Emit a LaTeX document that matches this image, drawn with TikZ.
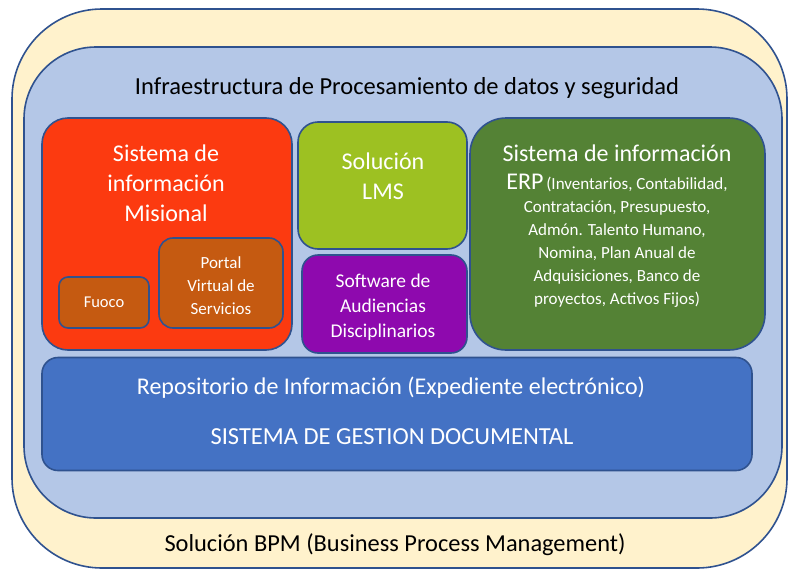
\documentclass[tikz,border=0pt]{standalone}
\usepackage{fontspec}
\setmainfont{Carlito}
\definecolor{cream}{HTML}{FFF2CC}
\definecolor{lightblue}{HTML}{B4C7E7}
\definecolor{edge}{HTML}{2F528F}
\definecolor{redbox}{HTML}{FC3A10}
\definecolor{brownbox}{HTML}{C55A11}
\definecolor{limebox}{HTML}{9DC122}
\definecolor{purplebox}{HTML}{8E09AE}
\definecolor{greenbox}{HTML}{548235}
\definecolor{bluebox}{HTML}{4472C4}
\tikzset{
  box/.style={draw=edge, line width=1.6pt, inner sep=0pt, rectangle},
  wtext/.style={text=white, align=center, inner sep=0pt},
  btext/.style={text=black, align=center, inner sep=0pt},
}
\newcommand{\fs}[2]{\fontsize{#1}{#2}\selectfont}
\begin{document}
\begin{tikzpicture}[x=1pt,y=-1pt]
\useasboundingbox (0,0) rectangle (789,570);
% outer BPM
\node[box, fill=cream, rounded corners=90pt, minimum width=775pt, minimum height=559pt] (bpm) at (399.5,288.5) {};
% inner infrastructure
\node[box, fill=lightblue, rounded corners=72pt, minimum width=758pt, minimum height=471pt] (infra) at (403,282.5) {};
\node[btext, font=\fs{24.5}{28}] (infratitle) at (407,88) {Infraestructura de Procesamiento de datos y seguridad};
% red misional
\node[box, fill=redbox, rounded corners=26pt, minimum width=250pt, minimum height=232pt] (mis) at (167,234) {};
\node[wtext, font=\fs{24}{30}] (mistext) at (166,183) {Sistema de\\información\\Misional};
\node[box, fill=brownbox, rounded corners=9pt, minimum width=90pt, minimum height=51pt] (fuoco) at (104,302.5) {};
\node[wtext, font=\fs{16.5}{18}] (fuocotext) at (fuoco) {Fuoco};
\node[box, fill=brownbox, rounded corners=14pt, minimum width=124pt, minimum height=90pt] (portal) at (221,283) {};
\node[wtext, font=\fs{17}{23}] (portaltext) at (221,286) {Portal\\Virtual de\\Servicios};
% LMS
\node[box, fill=limebox, rounded corners=20pt, minimum width=169pt, minimum height=127pt] (lms) at (382.5,185.5) {};
\node[wtext, font=\fs{24}{30}] (lmstext) at (383,176) {Solución\\LMS};
% purple
\node[box, fill=purplebox, rounded corners=16pt, minimum width=165pt, minimum height=98pt] (aud) at (384.5,304) {};
\node[wtext, font=\fs{19.5}{25}] (audtext) at (383,307) {Software de\\Audiencias\\Disciplinarios};
% green ERP
\node[box, fill=greenbox, rounded corners=36pt, minimum width=295pt, minimum height=232pt] (erp) at (617.5,234) {};
\node[wtext, font=\fs{24}{28}] (erptitle) at (617,153) {Sistema de información};
\node[wtext, font=\fs{17}{23}, anchor=north] (erptext) at (617,174) {{\fs{24}{23}ERP}\,(Inventarios, Contabilidad,\\Contratación, Presupuesto,\\Admón. Talento Humano,\\Nomina, Plan Anual de\\Adquisiciones, Banco de\\proyectos, Activos Fijos)};
% blue repository
\node[box, fill=bluebox, rounded corners=16pt, minimum width=710pt, minimum height=113pt] (repo) at (397,414) {};
\node[wtext, font=\fs{24}{28}] (repotext) at (391,388) {Repositorio de Información (Expediente electrónico)};
\node[wtext, font=\fs{24.5}{28}] (sgdtext) at (392,437) {SISTEMA DE GESTION DOCUMENTAL};
% BPM label
\node[btext, font=\fs{24.4}{28}] (bpmtext) at (395,545) {Solución BPM (Business Process Management)};
\end{tikzpicture}
\end{document}
